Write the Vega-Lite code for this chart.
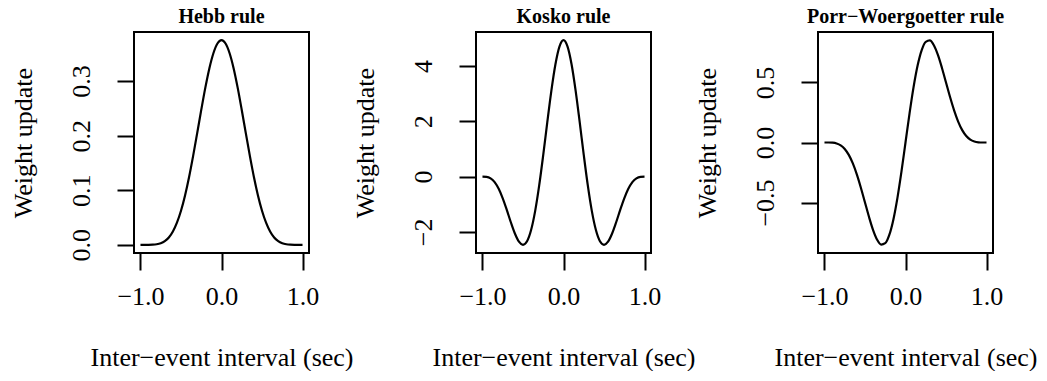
{
  "$schema": "https://vega.github.io/schema/vega-lite/v6.json",
  "background": "white",
  "padding": {"left": 8, "top": 6, "right": 5, "bottom": 0},
  "bounds": "flush",
  "spacing": 167,
  "config": {
    "font": "Liberation Serif",
    "view": {"stroke": "black", "strokeWidth": 2},
    "axis": {
      "domain": false,
      "grid": false,
      "ticks": true,
      "tickColor": "black",
      "tickWidth": 2,
      "tickSize": 17,
      "labelFont": "Liberation Serif",
      "labelFontSize": 26,
      "labelColor": "black",
      "labelFlush": false,
      "labelOverlap": false,
      "titleFont": "Liberation Serif",
      "titleFontSize": 26,
      "titleFontWeight": "normal",
      "titleColor": "black"
    },
    "axisX": {
      "labelBaseline": "alphabetic",
      "labelPadding": 34,
      "titleBaseline": "alphabetic",
      "titleAlign": "center",
      "titleX": 87.5,
      "titleY": 112
    },
    "axisY": {
      "labelAngle": -90,
      "labelAlign": "center",
      "labelBaseline": "alphabetic",
      "labelPadding": 28,
      "titleAngle": -90,
      "titleBaseline": "alphabetic",
      "titleAlign": "center",
      "titleX": -103,
      "titleY": 110.5
    },
    "title": {
      "font": "Liberation Serif",
      "fontSize": 20,
      "fontWeight": "bold",
      "color": "black",
      "baseline": "alphabetic",
      "offset": 5,
      "anchor": "middle",
      "frame": "group"
    }
  },
  "datasets": {
    "hebb": [
      {"x": -1, "y": 0}, {"x": -0.95, "y": 0}, {"x": -0.9, "y": 0.00003}, {"x": -0.85, "y": 0.00024},
      {"x": -0.8, "y": 0.00096}, {"x": -0.75, "y": 0.00282}, {"x": -0.7, "y": 0.00665}, {"x": -0.65, "y": 0.0135},
      {"x": -0.6, "y": 0.02447}, {"x": -0.55, "y": 0.04056}, {"x": -0.5, "y": 0.0625}, {"x": -0.45, "y": 0.09056},
      {"x": -0.4, "y": 0.12441}, {"x": -0.35, "y": 0.16303}, {"x": -0.3, "y": 0.20472}, {"x": -0.25, "y": 0.24718},
      {"x": -0.2, "y": 0.28766}, {"x": -0.15, "y": 0.32324}, {"x": -0.1, "y": 0.3511}, {"x": -0.05, "y": 0.36888},
      {"x": 0, "y": 0.375},
      {"x": 0.05, "y": 0.36888}, {"x": 0.1, "y": 0.3511}, {"x": 0.15, "y": 0.32324}, {"x": 0.2, "y": 0.28766},
      {"x": 0.25, "y": 0.24718}, {"x": 0.3, "y": 0.20472}, {"x": 0.35, "y": 0.16303}, {"x": 0.4, "y": 0.12441},
      {"x": 0.45, "y": 0.09056}, {"x": 0.5, "y": 0.0625}, {"x": 0.55, "y": 0.04056}, {"x": 0.6, "y": 0.02447},
      {"x": 0.65, "y": 0.0135}, {"x": 0.7, "y": 0.00665}, {"x": 0.75, "y": 0.00282}, {"x": 0.8, "y": 0.00096},
      {"x": 0.85, "y": 0.00024}, {"x": 0.9, "y": 0.00003}, {"x": 0.95, "y": 0}, {"x": 1, "y": 0}
    ],
    "kosko": [
      {"x": -1, "y": 0}, {"x": -0.95, "y": -0.008}, {"x": -0.9, "y": -0.0624}, {"x": -0.85, "y": -0.2003},
      {"x": -0.8, "y": -0.442}, {"x": -0.75, "y": -0.7854}, {"x": -0.7, "y": -1.2044}, {"x": -0.65, "y": -1.6506},
      {"x": -0.6, "y": -2.0586}, {"x": -0.55, "y": -2.3547}, {"x": -0.5, "y": -2.4674}, {"x": -0.45, "y": -2.3386},
      {"x": -0.4, "y": -1.9338}, {"x": -0.35, "y": -1.25}, {"x": -0.3, "y": -0.3205}, {"x": -0.25, "y": 0.7854},
      {"x": -0.2, "y": 1.9669}, {"x": -0.15, "y": 3.1009}, {"x": -0.1, "y": 4.0548}, {"x": -0.05, "y": 4.7013},
      {"x": 0, "y": 4.9348},
      {"x": 0.05, "y": 4.7013}, {"x": 0.1, "y": 4.0548}, {"x": 0.15, "y": 3.1009}, {"x": 0.2, "y": 1.9669},
      {"x": 0.25, "y": 0.7854}, {"x": 0.3, "y": -0.3205}, {"x": 0.35, "y": -1.25}, {"x": 0.4, "y": -1.9338},
      {"x": 0.45, "y": -2.3386}, {"x": 0.5, "y": -2.4674}, {"x": 0.55, "y": -2.3547}, {"x": 0.6, "y": -2.0586},
      {"x": 0.65, "y": -1.6506}, {"x": 0.7, "y": -1.2044}, {"x": 0.75, "y": -0.7854}, {"x": 0.8, "y": -0.442},
      {"x": 0.85, "y": -0.2003}, {"x": 0.9, "y": -0.0624}, {"x": 0.95, "y": -0.008}, {"x": 1, "y": 0}
    ],
    "pw": [
      {"x": -1, "y": 0}, {"x": -0.95, "y": -0.0001}, {"x": -0.9, "y": -0.00158}, {"x": -0.85, "y": -0.00774},
      {"x": -0.8, "y": -0.02335}, {"x": -0.75, "y": -0.05365}, {"x": -0.7, "y": -0.10317}, {"x": -0.65, "y": -0.17456},
      {"x": -0.6, "y": -0.2676}, {"x": -0.55, "y": -0.37855}, {"x": -0.5, "y": -0.5}, {"x": -0.45, "y": -0.62125},
      {"x": -0.4, "y": -0.72924}, {"x": -0.35, "y": -0.80996}, {"x": -0.3, "y": -0.85013}, {"x": -0.25, "y": -0.83905},
      {"x": -0.2, "y": -0.77032}, {"x": -0.15, "y": -0.64314}, {"x": -0.1, "y": -0.46322}, {"x": -0.05, "y": -0.2428},
      {"x": 0, "y": 0},
      {"x": 0.05, "y": 0.2428}, {"x": 0.1, "y": 0.46322}, {"x": 0.15, "y": 0.64314}, {"x": 0.2, "y": 0.77032},
      {"x": 0.25, "y": 0.83905}, {"x": 0.3, "y": 0.85013}, {"x": 0.35, "y": 0.80996}, {"x": 0.4, "y": 0.72924},
      {"x": 0.45, "y": 0.62125}, {"x": 0.5, "y": 0.5}, {"x": 0.55, "y": 0.37855}, {"x": 0.6, "y": 0.2676},
      {"x": 0.65, "y": 0.17456}, {"x": 0.7, "y": 0.10317}, {"x": 0.75, "y": 0.05365}, {"x": 0.8, "y": 0.02335},
      {"x": 0.85, "y": 0.00774}, {"x": 0.9, "y": 0.00158}, {"x": 0.95, "y": 0.0001}, {"x": 1, "y": 0}
    ]
  },
  "hconcat": [
    {
      "width": 175,
      "height": 221,
      "title": {"text": "Hebb rule"},
      "data": {"name": "hebb"},
      "mark": {"type": "line", "color": "black", "strokeWidth": 2.2, "interpolate": "monotone"},
      "encoding": {
        "x": {"field": "x", "type": "quantitative",
              "scale": {"domain": [-1.08, 1.08], "nice": false, "zero": false},
              "axis": {"values": [-1, 0, 1], "format": ".1f", "title": "Inter−event interval (sec)"}},
        "y": {"field": "y", "type": "quantitative",
              "scale": {"domain": [-0.015, 0.39], "nice": false, "zero": false},
              "axis": {"values": [0, 0.1, 0.2, 0.3], "format": ".1f", "title": "Weight update"}}
      }
    },
    {
      "width": 175,
      "height": 221,
      "title": {"text": "Kosko rule"},
      "data": {"name": "kosko"},
      "mark": {"type": "line", "color": "black", "strokeWidth": 2.2, "interpolate": "monotone"},
      "encoding": {
        "x": {"field": "x", "type": "quantitative",
              "scale": {"domain": [-1.08, 1.08], "nice": false, "zero": false},
              "axis": {"values": [-1, 0, 1], "format": ".1f", "title": "Inter−event interval (sec)"}},
        "y": {"field": "y", "type": "quantitative",
              "scale": {"domain": [-2.7635, 5.2309], "nice": false, "zero": false},
              "axis": {"values": [-2, 0, 2, 4], "format": "d", "title": "Weight update"}}
      }
    },
    {
      "width": 175,
      "height": 221,
      "title": {"text": "Porr−Woergoetter rule"},
      "data": {"name": "pw"},
      "mark": {"type": "line", "color": "black", "strokeWidth": 2.2, "interpolate": "monotone"},
      "encoding": {
        "x": {"field": "x", "type": "quantitative",
              "scale": {"domain": [-1.08, 1.08], "nice": false, "zero": false},
              "axis": {"values": [-1, 0, 1], "format": ".1f", "title": "Inter−event interval (sec)"}},
        "y": {"field": "y", "type": "quantitative",
              "scale": {"domain": [-0.9207, 0.9207], "nice": false, "zero": false},
              "axis": {"values": [-0.5, 0, 0.5], "format": ".1f", "title": "Weight update"}}
      }
    }
  ]
}
